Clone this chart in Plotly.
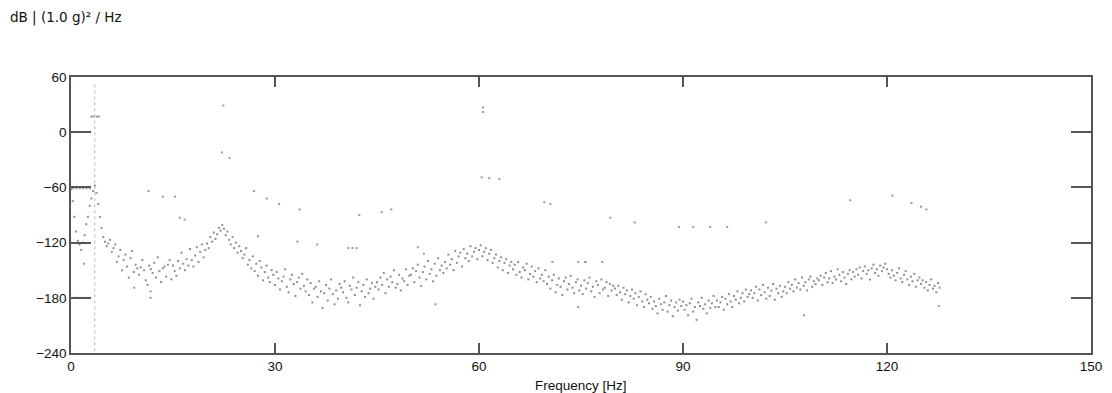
import numpy as np
import plotly.graph_objects as go

# Spectrum values (dB), bin spacing 0.25 Hz starting at 0 Hz
db_values = [
    -62, -75, -92, -108, -118, -122, -128, -120, -112, -100, -92, -80, -72, -64, -58, -66, -78, -92, -104, -114,
    -119, -124, -121, -117, -130, -126, -122, -141, -135, -128, -150, -139, -133, -146, -158, -137, -129, -152, -144, -148,
    -155, -147, -139, -150, -161, -166, -145, -149, -153, -142, -158, -136, -151, -163, -148, -146, -157, -144, -139, -160,
    -145, -151, -156, -140, -148, -131, -143, -150, -138, -145, -127, -139, -146, -134, -125, -141, -130, -122, -136, -128,
    -121, -126, -114, -119, -109, -116, -111, -104, -107, -101, -105, -112, -108, -117, -122, -114, -126, -120, -131, -124,
    -129, -137, -133, -126, -144, -139, -148, -135, -151, -143, -156, -140, -147, -161, -152, -145, -158, -163, -150, -155,
    -166, -152, -159, -171, -162, -157, -149, -168, -174, -160, -155, -165, -178, -163, -158, -170, -154, -167, -173, -160,
    -177, -164, -185, -170, -168, -179, -162, -173, -191, -175, -166, -183, -170, -160, -176, -187, -172, -181, -165, -169,
    -174, -162, -180, -185, -167, -171, -158, -177, -169, -163, -188, -173, -166, -179, -160, -175, -170, -164, -181, -168,
    -163, -171, -158, -166, -153, -175, -160, -168, -157, -163, -150, -169, -165, -155, -172, -159, -162, -149, -166, -156,
    -155, -148, -163, -151, -144, -158, -167, -152, -146, -160, -140, -154, -149, -162, -143, -156, -137, -150, -145, -153,
    -141, -148, -133, -144, -138, -150, -129, -142, -135, -131, -146, -127, -137, -132, -140, -124, -135, -130, -126, -138,
    -128, -123, -135, -130, -126, -139, -132, -128, -142, -137, -133, -147, -140, -136, -150, -142, -138, -153, -145, -141,
    -149, -144, -155, -141, -152, -158, -147, -150, -143, -160, -154, -146, -157, -151, -163, -148, -159, -155, -162, -150,
    -165, -157, -170, -161, -155, -174, -166, -159, -168, -177, -162, -158, -171, -165, -156, -169, -175, -163, -160, -172,
    -167, -176, -161, -170, -164, -158, -173, -168, -179, -162, -166, -175, -160, -171, -169, -163, -178, -165, -172, -167,
    -170, -177, -167, -174, -182, -169, -176, -172, -185, -178, -171, -181, -175, -188, -179, -173, -184, -190, -176, -182,
    -186, -179, -192, -184, -189, -197, -181, -187, -193, -185, -178, -195, -188, -183, -200, -190, -185, -194, -182, -189,
    -184, -193, -188, -199, -186, -181, -195, -190, -204, -185, -189, -180, -192, -187, -197, -183, -191, -186, -178, -190,
    -183, -190, -185, -179, -193, -181, -187, -176, -184, -190, -178, -182, -173, -186, -180, -175, -184, -171, -179, -176,
    -172, -180, -175, -168, -183, -171, -177, -166, -174, -181, -169, -178, -172, -165, -182, -170, -175, -167, -179, -173,
    -168, -175, -163, -170, -166, -173, -160, -169, -164, -171, -158, -167, -163, -172, -160, -157, -168, -162, -165, -159,
    -161, -156, -166, -158, -153, -163, -159, -151, -164, -157, -160, -149, -155, -162, -152, -158, -165, -154, -150, -160,
    -152, -157, -149, -155, -147, -159, -151, -146, -154, -150, -160, -148, -144, -153, -149, -156, -145, -151, -147, -143,
    -149, -154, -158, -150, -156, -161, -153, -148, -159, -163, -155, -151, -160, -166, -157, -162, -154, -168, -161, -158,
    -165, -161, -169, -163, -172, -166, -160, -170, -167, -174, -164, -169,
]
bin_width = 0.25
freq = np.arange(len(db_values)) * bin_width

# Isolated points
outlier_f = [22.4, 22.2, 23.3, 11.4, 13.5, 15.3, 16.0, 16.7, 26.9, 28.8, 30.6, 33.6, 27.5, 33.3,
             36.2, 40.8, 41.4, 42.0, 42.4, 45.7, 47.1, 60.6, 60.6, 60.4, 61.5, 63.0, 69.6, 70.5,
             79.3, 82.9, 89.4, 91.5, 94.0, 96.5, 102.2, 114.6, 120.8, 123.6, 125.0, 125.8,
             11.7, 11.7, 9.3, 1.9, 53.6, 74.6, 107.8, 127.6, 51.0, 51.9, 70.8, 74.6, 75.6, 75.7, 78.1,
             0.6, 1.0, 2.2, 2.6, 3.0, 3.3, 3.8, 4.1, 0.3, 0.8, 1.3, 1.8, 2.3, 2.8]
outlier_db = [29, -22, -28, -64, -70, -70, -93, -95, -64, -72, -78, -84, -113, -119,
              -122, -126, -126, -126, -90, -87, -84, 27, 22, -49, -50, -51, -76, -78,
              -93, -98, -103, -103, -103, -103, -98, -74, -69, -77, -81, -84,
              -173, -180, -169, -143, -187, -190, -199, -189, -125, -132, -141, -141, -141, -141, -141,
              -180, -180, -180, -180, 17, 17, 17, 17, -61, -61, -61, -61, -61, -61]

# Vertical marker line at the dominant peak
spike_f = [3.5, 3.5]
spike_db = [52, -240]

x_ticks = [0, 30, 60, 90, 120, 150]
y_ticks = [-240, -180, -120, -60, 0, 60]

fig = go.Figure()
fig.add_trace(go.Scatter(x=spike_f, y=spike_db, mode="lines",
                         line=dict(color="#b8b8b8", width=1, dash="dot"),
                         hoverinfo="skip", showlegend=False))
fig.add_trace(go.Scatter(x=freq, y=db_values, mode="markers",
                         marker=dict(symbol="square", size=2, color="#8f8f8f", line=dict(width=0)),
                         showlegend=False))
fig.add_trace(go.Scatter(x=outlier_f, y=outlier_db, mode="markers",
                         marker=dict(symbol="square", size=2, color="#9a9a9a", line=dict(width=0)),
                         showlegend=False))

axis_font = dict(family="Liberation Sans, Arial, sans-serif", size=13.5, color="#111")
fig.update_layout(
    width=1112, height=393,
    margin=dict(l=71, r=21, t=77, b=40, autoexpand=False),
    paper_bgcolor="white", plot_bgcolor="white",
    font=axis_font,
    title=dict(text="dB | (1.0 g)² / Hz", x=10/1112, xanchor="left", xref="container",
               y=1-17/393, yanchor="middle", yref="container", automargin=False,
               font=dict(family="DejaVu Sans, sans-serif", size=13.5, color="#111")),
    annotations=[dict(text="Frequency [Hz]", xref="paper", yref="paper",
                      x=0.5, y=-32/276, xanchor="center", yanchor="middle",
                      showarrow=False, font=dict(family="Liberation Sans, Arial, sans-serif",
                                                 size=13.5, color="#111"))],
)
fig.update_xaxes(range=[0, 150], tickvals=x_ticks, ticks="inside", ticklen=10,
                 tickcolor="#555", tickwidth=1.5, showline=True, linecolor="#555",
                 linewidth=1.5, mirror="ticks", showgrid=False, zeroline=False,
                 automargin=False)
fig.update_yaxes(range=[-240, 60], tickvals=y_ticks, ticks="inside", ticklen=20,
                 tickcolor="#555", tickwidth=1.5, showline=True, linecolor="#555",
                 linewidth=1.5, mirror="ticks", showgrid=False, zeroline=False,
                 automargin=False)

fig.write_html("out.html")
